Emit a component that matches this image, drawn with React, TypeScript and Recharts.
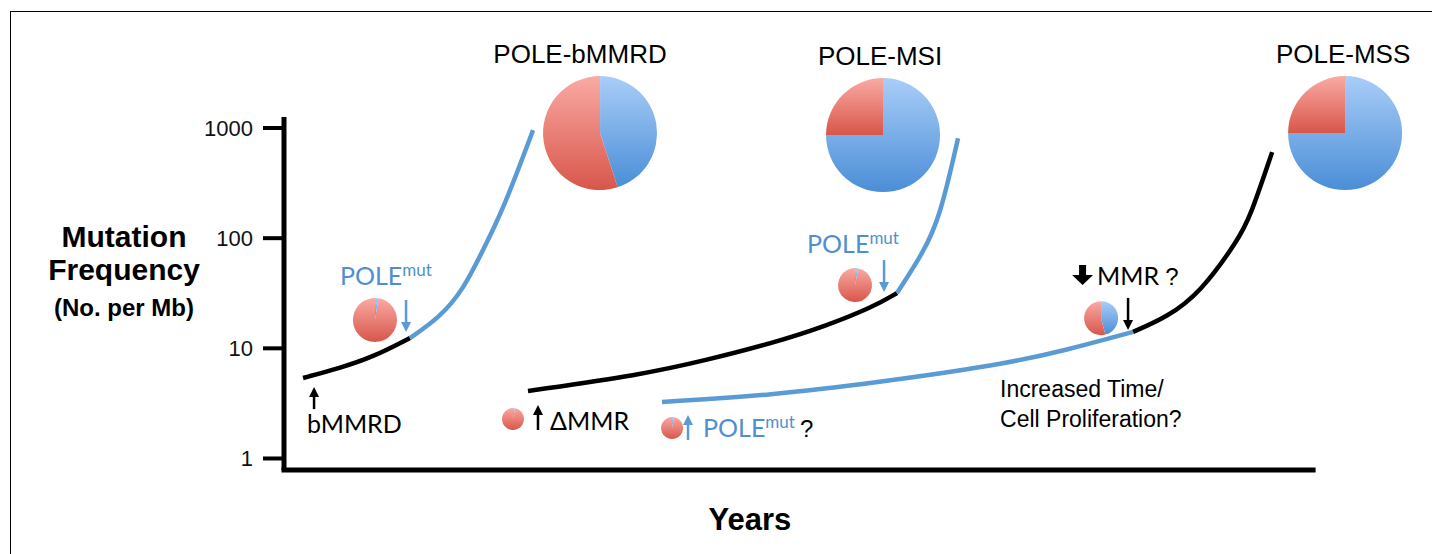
import React from 'react';
import {
  ComposedChart,
  Line,
  Scatter,
  XAxis,
  YAxis,
  ReferenceLine,
  Sector,
} from 'recharts';

// log axis: mutation frequency (per Mb), x: years (schematic)
const yTicks = [1, 10, 100, 1000];
const yDomain = [0.786, 1259];
const xDomain = [0, 110];
const xAxisEnd = 100;

// POLE-bMMRD path
const bmmrdBlack = [
  { x: 1.85, y: 5.38 },
  { x: 5.44, y: 6.63 },
  { x: 8.65, y: 8.34 },
  { x: 12.24, y: 12.4 },
];
const bmmrdBlue = [
  { x: 12.24, y: 12.4 },
  { x: 15.16, y: 19.2 },
  { x: 17.4, y: 33.8 },
  { x: 19.34, y: 78.0 },
  { x: 21.28, y: 180 },
  { x: 24.2, y: 957 },
];

// POLE-MSI path
const msiBlack = [
  { x: 23.71, y: 4.1 },
  { x: 34.6, y: 5.72 },
  { x: 41.11, y: 7.83 },
  { x: 47.52, y: 11.2 },
  { x: 52.38, y: 15.6 },
  { x: 57.24, y: 23.7 },
  { x: 59.57, y: 31.8 },
];
const msiBlue = [
  { x: 59.57, y: 31.8 },
  { x: 62.1, y: 73.3 },
  { x: 63.75, y: 155 },
  { x: 65.5, y: 809 },
];

// POLE-MSS path
const mssBlue = [
  { x: 36.73, y: 3.26 },
  { x: 47.52, y: 3.77 },
  { x: 57.24, y: 4.84 },
  { x: 69.58, y: 7.05 },
  { x: 76.09, y: 9.65 },
  { x: 82.51, y: 14.1 },
];
const mssBlack = [
  { x: 82.51, y: 14.1 },
  { x: 85.81, y: 19.2 },
  { x: 89.02, y: 31.8 },
  { x: 92.71, y: 96.1 },
  { x: 93.88, y: 155 },
  { x: 96.02, y: 604 },
];

// pies: share of POLE-type (blue) mutations, rest is MMR-type (red)
const pies = [
  { id: 'bmmrd', x: 30.71, y: 899, blue: 0.45, title: 'POLE-bMMRD' },
  { id: 'msi', x: 58.21, y: 862, blue: 0.75, title: 'POLE-MSI' },
  { id: 'mss', x: 103.11, y: 899, blue: 0.75, title: 'POLE-MSS' },
  { id: 's1', x: 8.84, y: 18.1, blue: 0.025 },
  { id: 's2', x: 22.25, y: 2.28, blue: 0.03 },
  { id: 's3', x: 55.49, y: 37.5, blue: 0.03 },
  { id: 's4', x: 37.71, y: 1.89, blue: 0.03 },
  { id: 's5', x: 79.4, y: 18.8, blue: 0.46 },
];

const arrows = [
  { id: 'a1', x: 2.92, y: 4.45, dir: 'up', tone: 'black' },
  { id: 'a2', x: 11.86, y: 14.06, dir: 'down', tone: 'blue' },
  { id: 'a3', x: 24.68, y: 3.06, dir: 'up', tone: 'black' },
  { id: 'a4', x: 58.31, y: 32.4, dir: 'down', tone: 'blue' },
  { id: 'a5', x: 39.26, y: 2.48, dir: 'up', tone: 'blue' },
  { id: 'a6', x: 82.02, y: 14.7, dir: 'down', tone: 'black' },
];

const notes = [
  { x: 2.24, y: 1.7, text: 'bMMRD', kind: 'label' },
  { x: 25.85, y: 1.81, text: 'ΔMMR', kind: 'label' },
  { x: 5.44, y: 37.5, text: 'POLE', sup: 'mut', kind: 'pole' },
  { x: 50.83, y: 73.3, text: 'POLE', sup: 'mut', kind: 'pole' },
  { x: 40.72, y: 1.57, text: 'POLE', sup: 'mut', tail: '?', kind: 'pole' },
  { x: 79.01, y: 37.5, text: 'MMR', tail: '?', kind: 'mmr' },
  { x: 69.58, y: 3.61, text: 'Increased Time/', kind: 'plain' },
  { x: 69.58, y: 1.93, text: 'Cell Proliferation?', kind: 'plain' },
];

const BLUE = '#5b9bd5';
const BLUE_TEXT = '#4f8fd1';
const ARIAL = '"Liberation Sans", Arial, sans-serif';
const CALIBRI = 'Lato, "DejaVu Sans", sans-serif';

const pieRadius: Record<string, number> = {
  bmmrd: 57, msi: 57, mss: 57, s1: 22, s2: 11, s3: 17, s4: 11, s5: 17,
};
const titleDx: Record<string, number> = { bmmrd: -20, msi: -3, mss: -2 };
const arrowLen: Record<string, number> = {
  a1: 22, a2: 32, a3: 25, a4: 32, a5: 25, a6: 32,
};

const PieMark = (props: any) => {
  const { cx, cy, payload } = props;
  const r = pieRadius[payload.id];
  const split = 90 - 360 * payload.blue;
  return (
    <g>
      <Sector cx={cx} cy={cy} innerRadius={0} outerRadius={r}
        startAngle={90} endAngle={split} fill='url(#blueFill)' />
      <Sector cx={cx} cy={cy} innerRadius={0} outerRadius={r}
        startAngle={split} endAngle={-270} fill='url(#redFill)' />
      {payload.title && (
        <text x={cx + (titleDx[payload.id] || 0)} y={cy - 70}
          textAnchor='middle' fontFamily={ARIAL} fontSize={26} fill='#000'>
          {payload.title}
        </text>
      )}
    </g>
  );
};

const ArrowMark = (props: any) => {
  const { cx, cy, payload } = props;
  const len = arrowLen[payload.id];
  const color = payload.tone === 'blue' ? BLUE : '#000';
  const s = payload.dir === 'down' ? -1 : 1;
  return (
    <g>
      <line x1={cx} y1={cy + s * len} x2={cx} y2={cy + s * 8}
        stroke={color} strokeWidth={2.5} />
      <polygon
        points={`${cx - 5},${cy + s * 10} ${cx + 5},${cy + s * 10} ${cx},${cy}`}
        fill={color} />
    </g>
  );
};

const NoteMark = (props: any) => {
  const { cx, cy, payload } = props;
  if (payload.kind === 'plain') {
    return (
      <text x={cx} y={cy} fontFamily={ARIAL} fontSize={23} fill='#000'>
        {payload.text}
      </text>
    );
  }
  if (payload.kind === 'pole') {
    return (
      <text x={cx} y={cy} fontFamily={CALIBRI} fontSize={25} fill={BLUE_TEXT}>
        <tspan>{payload.text}</tspan>
        <tspan dy={-9} fontSize={17}>{payload.sup}</tspan>
        {payload.tail && (
          <tspan dx={5} dy={9} fill='#000' fontFamily={ARIAL} fontSize={24}>
            {payload.tail}
          </tspan>
        )}
      </text>
    );
  }
  if (payload.kind === 'mmr') {
    const p = [
      [-18, -20], [-11, -20], [-11, -10], [-4, -10],
      [-14.5, 0], [-25, -10], [-18, -10],
    ].map(([a, b]) => `${cx + a},${cy + b}`).join(' ');
    return (
      <g>
        <polygon points={p} fill='#000' />
        <text x={cx} y={cy} fontFamily={CALIBRI} fontSize={25} fill='#000'>
          {payload.text}
          <tspan dx={6} fontFamily={ARIAL} fontSize={24}>{payload.tail}</tspan>
        </text>
      </g>
    );
  }
  return (
    <text x={cx} y={cy} fontFamily={CALIBRI} fontSize={25} fill='#000'>
      {payload.text}
    </text>
  );
};

const YLabel = (props: any) => {
  const vb = props.viewBox || { x: 224, y: 117 };
  const cx = vb.x - 100;
  return (
    <g fontFamily={ARIAL} fontWeight='bold' fill='#000' textAnchor='middle'>
      <text x={cx} y={vb.y + 130} fontSize={30}>Mutation</text>
      <text x={cx} y={vb.y + 163} fontSize={30}>Frequency</text>
      <text x={cx} y={vb.y + 199} fontSize={24}>(No. per Mb)</text>
    </g>
  );
};

const XLabel = (props: any) => {
  const vb = props.viewBox || { x: 284, y: 470 };
  return (
    <text x={vb.x + 466} y={vb.y + 60} textAnchor='middle' fontFamily={ARIAL}
      fontWeight='bold' fontSize={31} fill='#000'>
      Years
    </text>
  );
};

export default function App() {
  const lineProps = {
    type: 'basis' as const,
    dataKey: 'y',
    dot: false,
    strokeWidth: 4.5,
    isAnimationActive: false,
  };
  return (
    <div style={{ position: 'absolute', left: 0, top: 0, width: 1432, height: 554, background: '#fff' }}>
      <div style={{
        position: 'absolute', left: 10, top: 11, width: 1422, height: 543,
        borderTop: '1px solid #000', borderLeft: '1px solid #000', boxSizing: 'border-box',
      }} />
      <div style={{ position: 'absolute', left: 0, top: 0 }}>
        <ComposedChart width={1432} height={554}
          margin={{ top: 117, right: 16, bottom: 0, left: 224 }}>
          <defs>
            <linearGradient id='redFill' x1='0' y1='0' x2='0' y2='1'>
              <stop offset='0%' stopColor='#f9aaa4' />
              <stop offset='100%' stopColor='#d8564a' />
            </linearGradient>
            <linearGradient id='blueFill' x1='0' y1='0' x2='0' y2='1'>
              <stop offset='0%' stopColor='#a9cdf8' />
              <stop offset='100%' stopColor='#4a8ed7' />
            </linearGradient>
          </defs>
          <XAxis type='number' dataKey='x' domain={xDomain} height={84}
            axisLine={false} tick={false} tickLine={false}
            label={{ content: XLabel }} />
          <YAxis type='number' dataKey='y' scale='log' domain={yDomain}
            ticks={yTicks} width={60} interval={0}
            axisLine={{ stroke: '#000', strokeWidth: 5 }}
            tickLine={{ stroke: '#000', strokeWidth: 4 }}
            tickSize={21} tickMargin={10}
            tick={{ fontSize: 22, fill: '#111', fontFamily: ARIAL }}
            label={{ content: YLabel }} />
          <ReferenceLine
            segment={[{ x: 0, y: yDomain[0] }, { x: xAxisEnd, y: yDomain[0] }]}
            stroke='#000' strokeWidth={5} strokeLinecap='square' />
          <Line {...lineProps} data={bmmrdBlack} stroke='#000' />
          <Line {...lineProps} data={bmmrdBlue} stroke={BLUE} />
          <Line {...lineProps} data={msiBlack} stroke='#000' />
          <Line {...lineProps} data={msiBlue} stroke={BLUE} />
          <Line {...lineProps} data={mssBlue} stroke={BLUE} />
          <Line {...lineProps} data={mssBlack} stroke='#000' />
          <Scatter data={pies} shape={PieMark} isAnimationActive={false} />
          <Scatter data={arrows} shape={ArrowMark} isAnimationActive={false} />
          <Scatter data={notes} shape={NoteMark} isAnimationActive={false} />
        </ComposedChart>
      </div>
    </div>
  );
}
